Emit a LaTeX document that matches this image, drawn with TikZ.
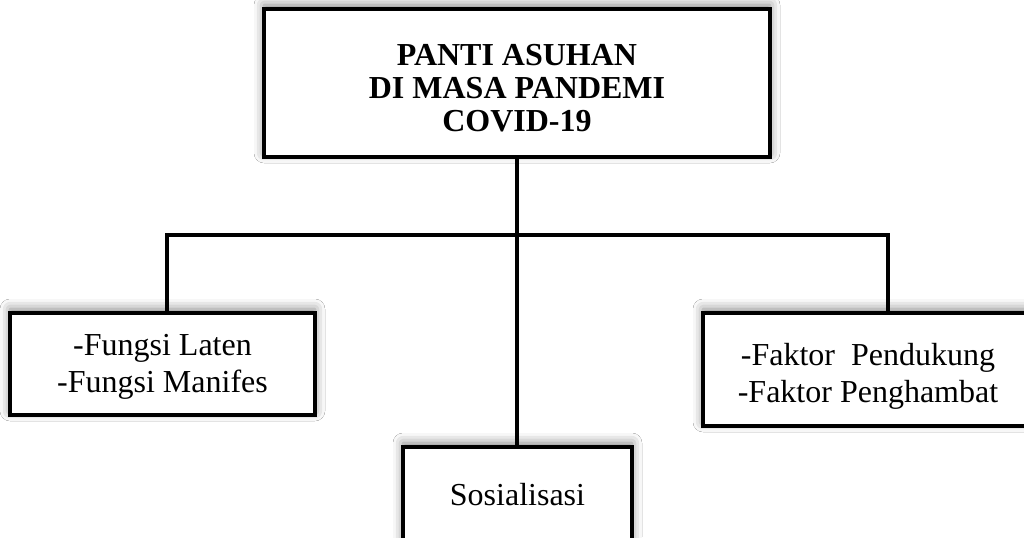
\documentclass[tikz,border=0pt]{standalone}
\usepackage{fontspec}
\setmainfont{Liberation Serif}
\usetikzlibrary{shadows.blur}
\begin{document}
\begin{tikzpicture}[x=0.5pt,y=-0.5pt,
  box/.style={draw=black, line width=1.7pt, fill=white, inner sep=0pt,
    blur shadow={shadow xshift=0pt, shadow yshift=2pt, shadow blur radius=5pt, shadow opacity=50}},
  txt/.style={inner sep=0pt, align=center, font=\fontsize{16}{18.5}\selectfont},
  conn/.style={draw=black, line width=1.7pt}]
\useasboundingbox[fill=white] (0,0) rectangle (1024,537);
\begin{scope}
\clip (0,0) rectangle (1024,537);
\node[box, minimum width=253pt, minimum height=74pt] (top) at (517,83) {};
\node[txt, font=\fontsize{16}{16.5}\selectfont\bfseries] (toptext) at ([yshift=-2.5pt]top.center)
  {PANTI ASUHAN\\DI MASA PANDEMI\\COVID-19};
\node[box, minimum width=152.5pt, minimum height=51pt] (left) at (162.5,364) {};
\node[txt] (lefttext) at ([yshift=-1.5pt]left.center) {-Fungsi Laten\\-Fungsi Manifes};
\node[box, minimum width=165pt, minimum height=56.5pt] (right) at (868,369.5) {};
\node[txt] (righttext) at ([yshift=-3.5pt]right.center) {-Faktor\ \ Pendukung\\-Faktor Penghambat};
\node[box, minimum width=114.5pt, minimum height=48pt] (sos) at (517.5,495) {};
\node[txt] (sostext) at (sos.center) {Sosialisasi};
\coordinate (hl) at (167,235);
\coordinate (hr) at (888,235);
\draw[conn] (top.south) -- (top.south |- sos.north);
\draw[conn, line cap=rect] (hl) -- (hr);
\draw[conn] (hl) -- (hl |- left.north);
\draw[conn] (hr) -- (hr |- right.north);
\end{scope}
\end{tikzpicture}
\end{document}
